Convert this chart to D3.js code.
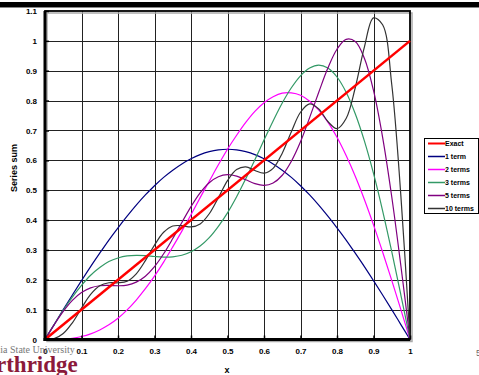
<!DOCTYPE html>
<html>
<head>
<meta charset="utf-8">
<script src="https://cdn.jsdelivr.net/npm/d3@7"></script>
<style>
html,body{margin:0;padding:0;background:#fff;}
svg{display:block;font-family:"Liberation Sans",Arial,sans-serif;}
</style>
</head>
<body>
<svg id="chart" width="479" height="375"></svg>
<script>
const xValues = [0,0.025,0.05,0.075,0.1,0.125,0.15,0.175,0.2,0.225,0.25,0.275,0.3,0.325,0.35,0.375,0.4,0.425,0.45,0.475,0.5,0.525,0.55,0.575,0.6,0.625,0.65,0.675,0.7,0.725,0.75,0.775,0.8,0.825,0.85,0.875,0.9,0.925,0.95,0.975,1];
const exact = [0,1];
const exactX = [0,1];
const term1 = [0,0.050,0.100,0.149,0.197,0.244,0.289,0.333,0.374,0.413,0.450,0.484,0.515,0.543,0.567,0.588,0.605,0.619,0.629,0.635,0.637,0.635,0.629,0.619,0.605,0.588,0.567,0.543,0.515,0.484,0.450,0.413,0.374,0.333,0.289,0.244,0.197,0.149,0.100,0.050,0];
const terms2 = [0,0.000,0.001,0.004,0.010,0.019,0.032,0.049,0.071,0.099,0.132,0.170,0.212,0.259,0.310,0.363,0.418,0.475,0.530,0.585,0.637,0.684,0.727,0.764,0.793,0.813,0.825,0.826,0.818,0.798,0.768,0.728,0.677,0.616,0.547,0.469,0.384,0.293,0.198,0.100,0];
const terms3 = [0,0.050,0.098,0.142,0.181,0.215,0.241,0.261,0.273,0.280,0.282,0.281,0.278,0.276,0.277,0.282,0.294,0.313,0.341,0.379,0.424,0.478,0.538,0.602,0.668,0.732,0.792,0.843,0.883,0.909,0.919,0.909,0.879,0.828,0.756,0.665,0.556,0.431,0.294,0.149,0];
const terms5 = [0,0.049,0.094,0.131,0.157,0.173,0.180,0.181,0.180,0.182,0.192,0.212,0.244,0.287,0.338,0.392,0.445,0.491,0.525,0.545,0.552,0.547,0.535,0.522,0.516,0.524,0.550,0.597,0.662,0.743,0.828,0.909,0.972,1.005,0.998,0.942,0.834,0.677,0.478,0.247,0];
const terms10 = [0,0.003,0.020,0.056,0.105,0.151,0.180,0.190,0.190,0.195,0.220,0.264,0.316,0.359,0.380,0.381,0.377,0.387,0.421,0.475,0.532,0.569,0.578,0.566,0.557,0.573,0.624,0.696,0.761,0.789,0.772,0.730,0.706,0.740,0.843,0.979,1.077,1.054,0.854,0.481,0];
const xTicks = [0,0.1,0.2,0.3,0.4,0.5,0.6,0.7,0.8,0.9,1];
const yTicks = [0,0.1,0.2,0.3,0.4,0.5,0.6,0.7,0.8,0.9,1,1.1];
const seriesNames = ["Exact","1 term","2 terms","3 terms","5 terms","10 terms"];
const seriesColors = ["#ff0000","#000080","#ff00ff","#339966","#800080","#333333"];

const svg = d3.select("#chart");
const x = d3.scaleLinear().domain([0,1]).range([45,410]);
const y = d3.scaleLinear().domain([0,1.1]).range([339.5,11]);

// slide header bar
svg.append("rect").attr("x",0).attr("y",2).attr("width",479).attr("height",5).attr("fill","#000");
svg.append("rect").attr("x",0).attr("y",7).attr("width",479).attr("height",1).attr("fill","#888");

// grid
const g = svg.append("g");
g.selectAll("line.vg").data(xTicks.slice(1,-1)).join("line")
  .attr("x1",d=>Math.round(x(d))+0.5).attr("x2",d=>Math.round(x(d))+0.5)
  .attr("y1",y(1.1)).attr("y2",y(0)).attr("stroke","#222").attr("stroke-width",1);
g.selectAll("line.hg").data(yTicks.slice(1,-1)).join("line")
  .attr("y1",d=>Math.round(y(d))+0.5).attr("y2",d=>Math.round(y(d))+0.5)
  .attr("x1",x(0)).attr("x2",x(1)).attr("stroke","#222").attr("stroke-width",1);

// plot frame (shadow + border)
svg.append("rect").attr("x",x(0)+2).attr("y",y(1.1)+2).attr("width",x(1)-x(0)).attr("height",y(0)-y(1.1))
  .attr("fill","none").attr("stroke","#aaa").attr("stroke-width",1.5);
svg.append("rect").attr("x",x(0)).attr("y",y(1.1)).attr("width",x(1)-x(0)).attr("height",y(0)-y(1.1))
  .attr("fill","none").attr("stroke","#000").attr("stroke-width",1.8);

// series
const line = d3.line().x(d=>x(d[0])).y(d=>y(d[1])).curve(d3.curveCatmullRom.alpha(0.5));
const seriesData = [
  exactX.map((v,i)=>[v,exact[i]]),
  xValues.map((v,i)=>[v,term1[i]]),
  xValues.map((v,i)=>[v,terms2[i]]),
  xValues.map((v,i)=>[v,terms3[i]]),
  xValues.map((v,i)=>[v,terms5[i]]),
  xValues.map((v,i)=>[v,terms10[i]])
];
const widths = [2.5,1.2,1.2,1.2,1.2,1.2];
const order = [1,2,3,4,5,0];
order.forEach(i=>{
  svg.append("path").datum(seriesData[i]).attr("d",line)
    .attr("fill","none").attr("stroke",seriesColors[i]).attr("stroke-width",widths[i]);
});

// axes (thick left and bottom)
svg.append("line").attr("x1",x(0)).attr("x2",x(0)).attr("y1",y(1.1)).attr("y2",y(0)+1.5).attr("stroke","#000").attr("stroke-width",3);
svg.append("line").attr("x1",x(0)-1.5).attr("x2",x(1)).attr("y1",y(0)).attr("y2",y(0)).attr("stroke","#000").attr("stroke-width",3);

const xAxis = d3.axisBottom(x).tickValues(xTicks).tickSize(-4).tickPadding(9).tickFormat(d3.format("~g"));
const gx = svg.append("g").attr("transform",`translate(0,${y(0)})`).call(xAxis);
gx.select(".domain").remove();
gx.selectAll("line").attr("stroke","#000").attr("stroke-width",1.5);
gx.selectAll("text").attr("font-size",8).attr("font-weight","bold").attr("fill","#000").attr("font-family","Liberation Sans, Arial, sans-serif");

const yAxis = d3.axisLeft(y).tickValues(yTicks).tickSize(-4).tickPadding(8).tickFormat(d3.format("~g"));
const gy = svg.append("g").attr("transform",`translate(${x(0)},0)`).call(yAxis);
gy.select(".domain").remove();
gy.selectAll("line").attr("stroke","#000").attr("stroke-width",1.5);
gy.selectAll("text").attr("font-size",8).attr("font-weight","bold").attr("fill","#000").attr("font-family","Liberation Sans, Arial, sans-serif");

// axis titles
svg.append("text").attr("x",227).attr("y",373).attr("text-anchor","middle")
  .attr("font-size",9).attr("font-weight","bold").text("x");
svg.append("text").attr("transform","translate(17,168) rotate(-90)").attr("text-anchor","middle")
  .attr("font-size",9).attr("font-weight","bold").text("Series sum");

// legend
const lg = svg.append("g");
lg.append("rect").attr("x",424.5).attr("y",138.5).attr("width",54).attr("height",75)
  .attr("fill","#fff").attr("stroke","#000").attr("stroke-width",1);
seriesNames.forEach((n,i)=>{
  const yy = 143.5 + i*13;
  lg.append("line").attr("x1",428).attr("x2",445).attr("y1",yy).attr("y2",yy)
    .attr("stroke",seriesColors[i]).attr("stroke-width",i===0?2:1.5);
  lg.append("text").attr("x",445).attr("y",yy+2.5).attr("font-size",7).attr("font-weight","bold").text(n);
});

// logo fragments and page number
svg.append("text").attr("x",-8).attr("y",353).attr("font-family","Liberation Serif, serif")
  .attr("font-size",10).attr("fill","#777").text("rnia State University");
svg.append("text").attr("x",-4).attr("y",372).attr("font-family","Liberation Serif, serif")
  .attr("font-size",23).attr("font-weight","bold").attr("fill","#8b1a3a").text("rthridge");
svg.append("text").attr("x",476).attr("y",356).attr("font-size",9).attr("fill","#666").text("5");
</script>
</body>
</html>
